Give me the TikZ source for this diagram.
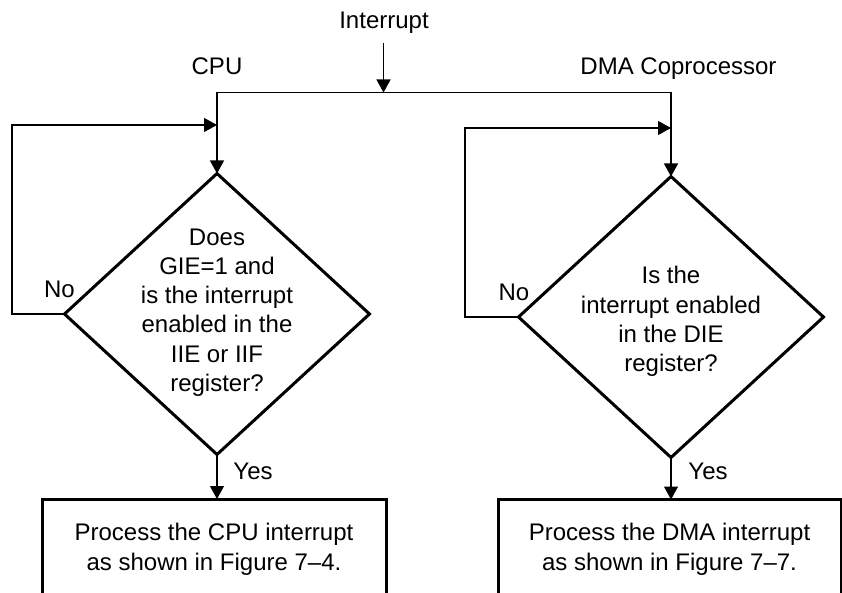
\documentclass[tikz,border=0pt]{standalone}
\usepackage{fontspec}
\setmainfont{Liberation Sans}
\usetikzlibrary{arrows.meta,shapes.geometric}
\tikzset{
  every node/.style={font=\fontsize{24}{29}\selectfont, inner sep=0pt, outer sep=0pt},
  conn/.style={line width=1.2pt},
  arr/.style={conn, -{Triangle[length=13pt,width=14pt]}},
  dia/.style={draw, shape=diamond, line width=3pt, minimum width=305pt, minimum height=281pt},
  dtext/.style={align=center, font=\fontsize{24}{29.2}\selectfont},
  procbox/.style={draw, rectangle, line width=3pt, minimum height=100pt, align=center, font=\fontsize{24}{30}\selectfont},
  lbl/.style={anchor=base}
}
\begin{document}
\begin{tikzpicture}[x=1pt,y=-1pt]
\clip (0,0) rectangle (842,593);
% labels
\node[lbl] (intr) at (384,28.5) {Interrupt};
\node[lbl] (cpu) at (217,75) {CPU};
\node[lbl] (dma) at (678.5,75) {DMA Coprocessor};
% diamonds
\node[dia] (d1) at (217,314) {};
\node[dtext] (t1) at (217,312.5) {Does\\GIE=1 and\\is the interrupt\\enabled in the\\IIE or IIF\\register?};
\node[dia] (d2) at (671,317) {};
\node[dtext] (t2) at (671,321.5) {Is the\\interrupt enabled\\in the DIE\\register?};
% boxes
\node[procbox, minimum width=344pt] (b1) at (214,549) {Process the CPU interrupt\\as shown in Figure 7–4.};
\node[procbox, minimum width=343pt] (b2) at (669.5,549.5) {Process the DMA interrupt\\as shown in Figure 7–7.};
% No / Yes labels
\node[lbl] (no1) at (59.5,298) {No};
\node[lbl] (no2) at (514,300.5) {No};
\node[lbl] (yes1) at (253,479) {Yes};
\node[lbl] (yes2) at (708,479) {Yes};
% coordinates
\coordinate (itop) at (383.5,43);
\coordinate (junc) at (383.5,92.5);
\coordinate (lt) at (217,92.5);
\coordinate (rt) at (671,92.5);
\coordinate (lm) at (217,125);
\coordinate (rm) at (671,128);
\coordinate (lc) at (12,125);
\coordinate (rc) at (465,128);
% connectors
\draw[arr] (itop) -- (junc);
\draw[conn] (lt) -- (rt);
\draw[conn] (lt) -- (lm);
\draw[arr] (lm) -- (d1.north);
\draw[conn] (rt) -- (rm);
\draw[arr] (rm) -- (d2.north);
\draw[arr] (d1.west) -| (lc) -- (lm);
\draw[arr] (d2.west) -| (rc) -- (rm);
\draw[arr] (d1.south) -- (d1.south |- b1.north);
\draw[arr] (d2.south) -- (d2.south |- b2.north);
\end{tikzpicture}
\end{document}
